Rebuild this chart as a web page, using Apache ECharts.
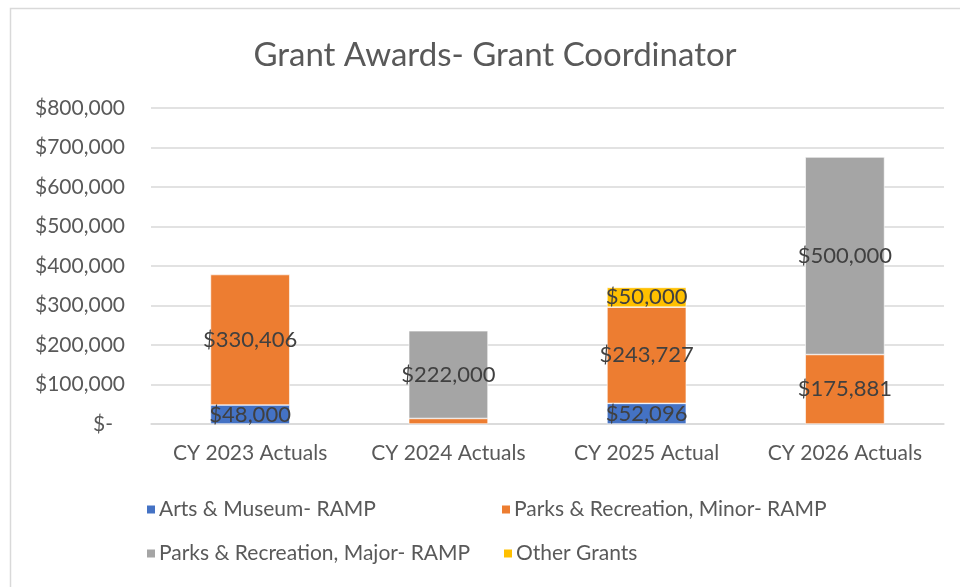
<!DOCTYPE html>
<html>
<head>
<meta charset="utf-8">
<title>Grant Awards- Grant Coordinator</title>
<script src="https://cdn.jsdelivr.net/npm/echarts@6/dist/echarts.min.js"></script>
<style>
    html, body { margin: 0; padding: 0; background: #fff; }
    #chart { width: 960px; height: 587px; }
</style>
</head>
<body>
<div id="chart"></div>
<script>
// categories and series values
let categories = ['CY 2023 Actuals', 'CY 2024 Actuals', 'CY 2025 Actual', 'CY 2026 Actuals'];
let artsMuseum = [48000, 0, 52096, 0];
let parksMinor = [330406, 14000, 243727, 175881];
let parksMajor = [0, 222000, 0, 500000];
let otherGrants = [0, 0, 50000, 0];
let seriesNames = ['Arts & Museum- RAMP', 'Parks & Recreation, Minor- RAMP',
    'Parks & Recreation, Major- RAMP', 'Other Grants'];
let seriesColors = ['#4472C4', '#ED7D31', '#A5A5A5', '#FFC000'];
// data labels that were hidden in the original
let hiddenLabels = {1: [1]};

let font = 'Lato, "Noto Sans", sans-serif';

function money(v) {
    return '$' + Math.round(v).toLocaleString('en-US');
}

function buildSeries(idx, values) {
    let hidden = hiddenLabels[idx] || [];
    return {
        name: seriesNames[idx],
        type: 'bar',
        stack: 'total',
        barWidth: '40%',
        itemStyle: {color: seriesColors[idx], borderColor: '#fff', borderWidth: 0.6},
        label: {
            show: true,
            position: 'inside',
            color: '#404040',
            fontFamily: font,
            fontSize: 22,
            formatter: function (p) { return money(p.value); }
        },
        data: values.map(function (v, i) {
            if (v === 0) return {value: '-', label: {show: false}};
            if (hidden.indexOf(i) >= 0) return {value: v, label: {show: false}};
            return v;
        })
    };
}

function legendAt(name, left, top) {
    return {
        data: [name],
        left: left,
        top: top,
        itemWidth: 10,
        itemHeight: 10,
        icon: 'rect',
        itemGap: 4,
        textStyle: {color: '#595959', fontFamily: font, fontSize: 21, padding: [0, 0, 0, -2]}
    };
}

let chart = echarts.init(document.getElementById('chart'));
let option = {
    backgroundColor: '#fff',
    animation: false,
    graphic: [{
        type: 'rect',
        shape: {x: 10.5, y: 8.5, width: 980, height: 620},
        style: {fill: 'none', stroke: '#d9d9d9', lineWidth: 1.5},
        silent: true
    }],
    title: {
        text: 'Grant Awards- Grant Coordinator',
        left: 490,
        top: 34,
        textAlign: 'center',
        textStyle: {color: '#595959', fontFamily: font, fontSize: 33, fontWeight: 'normal'}
    },
    legend: [
        legendAt(seriesNames[0], 140, 494),
        legendAt(seriesNames[1], 495, 494),
        legendAt(seriesNames[2], 140, 538),
        legendAt(seriesNames[3], 497, 538)
    ],
    grid: {left: 151, right: 16, top: 108, bottom: 163},
    xAxis: {
        type: 'category',
        data: categories,
        axisLine: {lineStyle: {color: '#d9d9d9', width: 1.5}},
        axisTick: {show: false},
        axisLabel: {color: '#595959', fontFamily: font, fontSize: 21, margin: 19, interval: 0, hideOverlap: false}
    },
    yAxis: {
        type: 'value',
        min: 0,
        max: 800000,
        interval: 100000,
        axisLine: {show: false},
        axisTick: {show: false},
        splitLine: {lineStyle: {color: '#d9d9d9', width: 1.5}},
        axisLabel: {
            color: '#595959',
            fontFamily: font,
            fontSize: 21,
            margin: 26,
            formatter: function (v) {
                if (v === 0) return '{z|$-}';
                return money(v);
            },
            rich: {
                z: {color: '#595959', fontFamily: font, fontSize: 21, padding: [0, 12, 0, 0]}
            }
        }
    },
    series: [
        buildSeries(0, artsMuseum),
        buildSeries(1, parksMinor),
        buildSeries(2, parksMajor),
        buildSeries(3, otherGrants)
    ]
};
chart.setOption(option);
</script>
</body>
</html>
